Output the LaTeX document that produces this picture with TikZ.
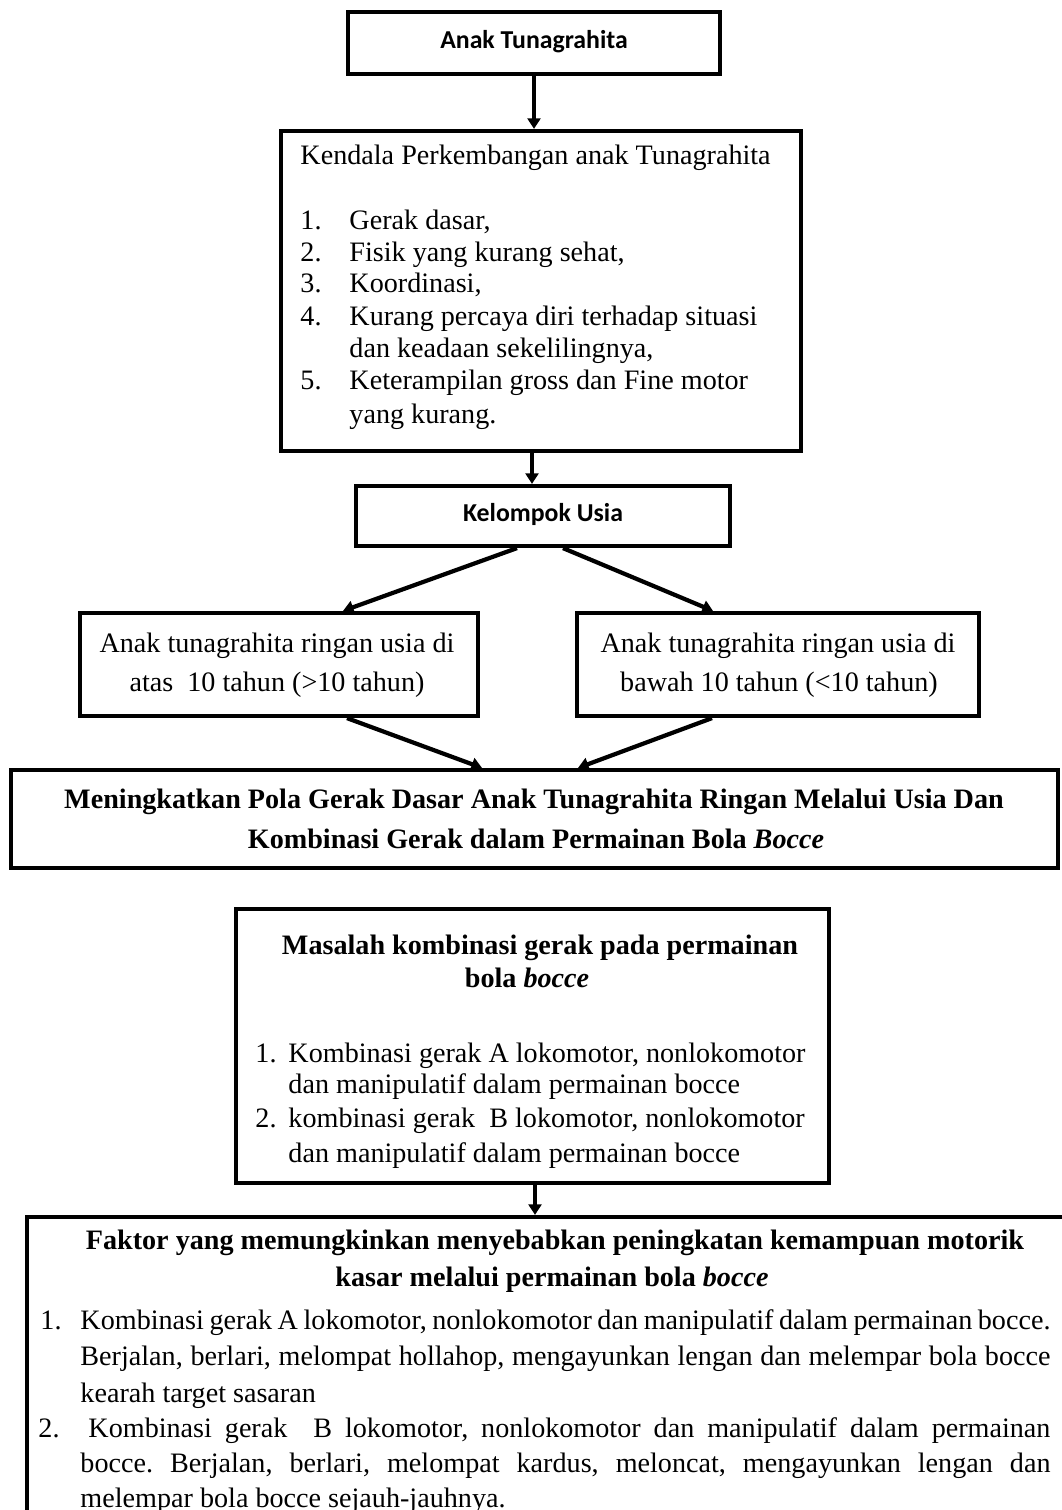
\documentclass[tikz,border=0pt]{standalone}
\usepackage{fontspec}
\setmainfont{Liberation Serif}
\newfontfamily\calib{Carlito}
\usetikzlibrary{arrows.meta}
\newdimen\pxd \pxd=0.4264pt
\frenchspacing
\tikzset{
  box/.style={draw, line width=1.8pt, rectangle, inner sep=0pt},
  arr/.style={line width=1.8pt, -{Triangle[length=4.5pt,width=5.5pt]}},
  txt/.style={inner sep=0pt, font=\fontsize{12}{14}\selectfont},
  lt/.style={txt, anchor=base west},
  ct/.style={txt, anchor=base},
  bt/.style={ct, font=\bfseries\fontsize{12}{14}\selectfont},
  sans/.style={inner sep=0pt, font=\calib\bfseries\fontsize{11}{13}\selectfont}
}
\begin{document}
\begin{tikzpicture}[x=0.4264pt, y=-0.4264pt]
\useasboundingbox (0,0) rectangle (1062,1510);
\clip (0,0) rectangle (1062,1510);
\fill[white] (0,0) rectangle (1062,1510);

% boxes
\node[box, minimum width=372*\pxd, minimum height=62*\pxd] (b1) at (534,43) {};
\node[box, minimum width=520*\pxd, minimum height=320*\pxd] (b2) at (541,291) {};
\node[box, minimum width=374*\pxd, minimum height=60*\pxd] (b3) at (543,516) {};
\node[box, minimum width=398*\pxd, minimum height=103*\pxd] (b4) at (279,664.5) {};
\node[box, minimum width=402*\pxd, minimum height=103*\pxd] (b5) at (778,664.5) {};
\node[box, minimum width=1047*\pxd, minimum height=98*\pxd] (b6) at (534.5,819) {};
\node[box, minimum width=593*\pxd, minimum height=274*\pxd] (b7) at (532.5,1046) {};
\node[box, minimum width=1073*\pxd, minimum height=353*\pxd] (b8) at (563.5,1393.5) {};

% box 1 and 3
\node[sans] (t1) at (534,42) {Anak Tunagrahita};
\node[sans] (t3) at (543,514) {Kelompok Usia};

% box 2
\node[lt] (k0) at (300,164) {Kendala Perkembangan anak Tunagrahita};
\node[lt] (k1n) at (300,229) {1.};
\node[lt] (k1) at (349,229) {Gerak dasar,};
\node[lt] (k2n) at (300,261) {2.};
\node[lt] (k2) at (349,261) {Fisik yang kurang sehat,};
\node[lt] (k3n) at (300,292) {3.};
\node[lt] (k3) at (349,292) {Koordinasi,};
\node[lt] (k4n) at (300,325) {4.};
\node[lt] (k4) at (349,325) {Kurang percaya diri terhadap situasi};
\node[lt] (k4b) at (349,357) {dan keadaan sekelilingnya,};
\node[lt] (k5n) at (300,389) {5.};
\node[lt] (k5) at (349,389) {Keterampilan gross dan Fine motor};
\node[lt] (k5b) at (349,423) {yang kurang.};

% boxes 4 and 5
\node[ct] (l1) at (277,652) {Anak tunagrahita ringan usia di};
\node[ct] (l2) at (277,691) {atas\ \ 10 tahun (>10 tahun)};
\node[ct] (r1) at (778,652) {Anak tunagrahita ringan usia di};
\node[ct] (r2) at (779,691) {bawah 10 tahun (<10 tahun)};

% box 6
\node[bt] (m1) at (534,808) {Meningkatkan Pola Gerak Dasar Anak Tunagrahita Ringan Melalui Usia Dan};
\node[bt] (m2) at (536,848) {Kombinasi Gerak dalam Permainan Bola \textit{Bocce}};

% box 7
\node[bt] (s0) at (540,954) {Masalah kombinasi gerak pada permainan};
\node[bt] (s0b) at (527,987) {bola \textit{bocce}};
\node[lt] (s1n) at (255,1062) {1.};
\node[lt] (s1) at (288,1062) {Kombinasi gerak A lokomotor, nonlokomotor};
\node[lt] (s1b) at (288,1093) {dan manipulatif dalam permainan bocce};
\node[lt] (s2n) at (255,1127) {2.};
\node[lt] (s2) at (288,1127) {kombinasi gerak\ \ B lokomotor, nonlokomotor};
\node[lt] (s2b) at (288,1162) {dan manipulatif dalam permainan bocce};

% box 8
\node[bt] (f0) at (555,1249) {Faktor yang memungkinkan menyebabkan peningkatan kemampuan motorik};
\node[bt] (f0b) at (552,1286) {kasar melalui permainan bola \textit{bocce}};
\node[lt] (f1n) at (40,1329) {1.};
\node[lt] (f1) at (80,1329) {\makebox[970\pxd][s]{Kombinasi gerak A lokomotor, nonlokomotor dan manipulatif dalam permainan bocce.}};
\node[lt] (f1b) at (80,1365) {\makebox[970\pxd][s]{Berjalan, berlari, melompat hollahop, mengayunkan lengan dan melempar bola bocce}};
\node[lt] (f1c) at (80,1402) {kearah target sasaran};
\node[lt] (f2n) at (38,1437) {2.};
\node[lt] (f2) at (88,1437) {\makebox[962\pxd][s]{Kombinasi gerak\ \ B lokomotor, nonlokomotor dan manipulatif dalam permainan}};
\node[lt] (f2b) at (80,1472) {\makebox[970\pxd][s]{bocce. Berjalan, berlari, melompat kardus, meloncat, mengayunkan lengan dan}};
\node[lt] (f2c) at (80,1507) {melempar bola bocce sejauh-jauhnya.};

% connectors
\draw[arr] (b1.south) -- (b1.south |- b2.north);
\draw[arr] (532,0 |- b2.south) -- (532,0 |- b3.north);
\draw[arr] (517,0 |- b3.south) -- (343,0 |- b4.north);
\draw[arr] (563,0 |- b3.south) -- (713,0 |- b5.north);
\draw[arr] (347,0 |- b4.south) -- (482,0 |- b6.north);
\draw[arr] (712,0 |- b5.south) -- (578,0 |- b6.north);
\draw[arr] (535,0 |- b7.south) -- (535,0 |- b8.north);
\end{tikzpicture}
\end{document}
